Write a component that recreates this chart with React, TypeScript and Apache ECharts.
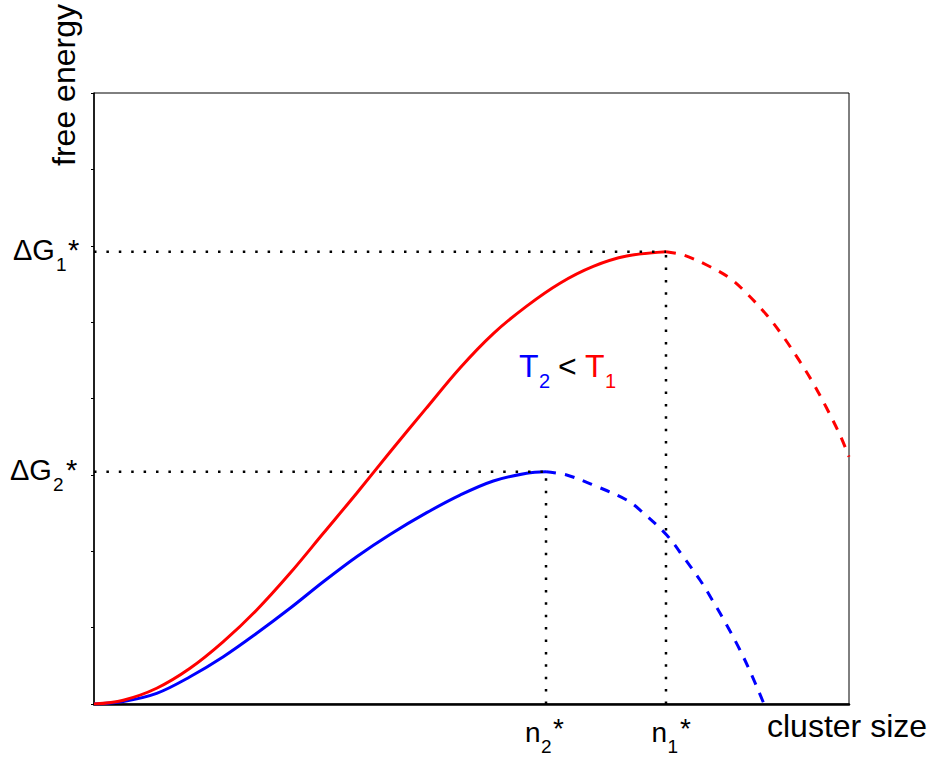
import React, { useEffect, useRef } from "react";
import * as echarts from "echarts";

// cluster size (0..100) vs free energy (0..8)
const redSolid: [number, number][] = [
  [0, 0], [3.88, 0.05], [8.3, 0.206], [12.72, 0.467], [17.13, 0.816], [21.55, 1.231],
  [25.96, 1.711], [30.37, 2.235], [34.79, 2.76], [39.21, 3.3], [44.07, 3.88],
  [48.48, 4.4], [52.89, 4.85], [57.31, 5.21], [61.72, 5.51], [66.13, 5.73],
  [70.56, 5.865], [75.76, 5.922],
];
const redDashed: [number, number][] = [
  [75.76, 5.922], [78.05, 5.879], [81.15, 5.748], [84.24, 5.574], [86.45, 5.377],
  [89.1, 5.093], [91.3, 4.809], [93.51, 4.482], [95.27, 4.199], [97.05, 3.872],
  [98.81, 3.522], [100, 3.238],
];
const blueSolid: [number, number][] = [
  [0, 0], [3.88, 0.034], [8.3, 0.14], [12.72, 0.357], [17.13, 0.619], [21.55, 0.926],
  [25.96, 1.253], [30.37, 1.601], [34.79, 1.929], [39.21, 2.22], [44.07, 2.505],
  [48.48, 2.735], [52.89, 2.92], [57.31, 3.022], [59.87, 3.042],
];
const blueDashed: [number, number][] = [
  [59.87, 3.042], [62.61, 2.998], [66.13, 2.867], [70.56, 2.671], [72.32, 2.54],
  [75.85, 2.213], [78.05, 1.929], [80.26, 1.624], [82.03, 1.339], [83.8, 1.034],
  [85.56, 0.707], [87.11, 0.38], [88.74, 0],
];
const peak1: [number, number] = [75.76, 5.922];
const peak2: [number, number] = [59.87, 3.042];
const xRange = [0, 100];
const yRange = [0, 8];
const yTickStep = 1;
const xAxisTitle = "cluster size";
const yAxisTitle = "free energy";

const FONT = "'Liberation Sans', Arial, Helvetica, sans-serif";
const RED = "#ff0000";
const BLUE = "#0000ff";

function txt(text: string, left: number, baseline: number, size: number, color = "#000", z = 100) {
  return {
    type: "text",
    x: left,
    y: baseline - 0.3465 * size,
    z,
    silent: true,
    style: {
      text,
      fill: color,
      fontSize: size,
      fontFamily: FONT,
      align: "left",
      verticalAlign: "middle",
      textAlign: "left",
      textVerticalAlign: "middle",
    },
  };
}

export default function App() {
  const ref = useRef<HTMLDivElement>(null);
  useEffect(() => {
    document.body.style.margin = "0";
    const chart = echarts.init(ref.current!, undefined, { renderer: "svg" });
    const dotted = { color: "#000", width: 2.5, type: [2.5, 9.9] as number[], cap: "butt" as const };
    const lineSeries = (data: [number, number][], color: string, dashed: boolean, z = 3) => ({
      type: "line",
      data,
      smooth: 0.35,
      symbol: "none",
      z,
      lineStyle: { color, width: 3, type: dashed ? [10, 9] : "solid", cap: "butt" },
      clip: true,
    });
    chart.setOption({
      animation: false,
      grid: {
        left: 94, top: 93, right: 84, bottom: 53,
        show: true, borderColor: "#000", borderWidth: 1, backgroundColor: "transparent",
      },
      xAxis: {
        type: "value", min: xRange[0], max: xRange[1],
        axisLine: { show: true, lineStyle: { color: "#000", width: 2.5 } },
        axisTick: { show: false }, axisLabel: { show: false }, splitLine: { show: false },
      },
      yAxis: {
        type: "value", min: yRange[0], max: yRange[1], interval: yTickStep,
        axisLine: { show: true, lineStyle: { color: "#000", width: 1.5 } },
        axisTick: { show: true, length: 3, lineStyle: { color: "#000", width: 1 } },
        axisLabel: { show: false }, splitLine: { show: false },
      },
      series: [
        lineSeries(blueSolid, BLUE, false),
        lineSeries(blueDashed, BLUE, true),
        lineSeries(redSolid, RED, false),
        lineSeries(redDashed, RED, true),
        { type: "line", data: [[xRange[0], peak1[1]], peak1], symbol: "none", z: 5, lineStyle: dotted },
        { type: "line", data: [[xRange[0], peak2[1]], peak2], symbol: "none", z: 5, lineStyle: dotted },
        { type: "line", data: [[peak1[0], yRange[0]], peak1], symbol: "none", z: 5, lineStyle: dotted },
        { type: "line", data: [[peak2[0], yRange[0]], peak2], symbol: "none", z: 5, lineStyle: dotted },
      ],
    });
    const p1 = chart.convertToPixel({ gridIndex: 0 }, peak1) as number[];
    const p2 = chart.convertToPixel({ gridIndex: 0 }, peak2) as number[];
    const origin = chart.convertToPixel({ gridIndex: 0 }, [xRange[0], yRange[0]]) as number[];
    const right = chart.convertToPixel({ gridIndex: 0 }, [xRange[1], yRange[1]]) as number[];
    const base = origin[1] + 38;
    const g1 = p1[1] + 8.5;
    const g2 = p2[1] + 8.5;
    chart.setOption({
      graphic: [
        txt("ΔG", 13, g1, 29), txt("1", 56, g1 + 11, 19), txt("*", 68, g1, 29),
        txt("ΔG", 10, g2, 29), txt("2", 53, g2 + 11, 19), txt("*", 66, g2, 29),
        txt("n", p2[0] - 21, base, 28), txt("2", p2[0] - 5, base + 11, 19), txt("*", p2[0] + 7, base - 4, 28),
        txt("n", p1[0] - 14.5, base, 28), txt("1", p1[0] + 1.5, base + 11, 19), txt("*", p1[0] + 14, base - 4, 28),
        txt(xAxisTitle, right[0] - 82, origin[1] + 33, 32),
        {
          type: "text", x: 64, y: 85, rotation: Math.PI / 2, silent: true,
          style: {
            text: yAxisTitle, fill: "#000", fontSize: 32, fontFamily: FONT,
            align: "center", verticalAlign: "middle", textAlign: "center", textVerticalAlign: "middle",
          },
        },
        txt("T", 519, 377, 32, BLUE), txt("2", 539, 388, 20, BLUE),
        txt("<", 558, 377, 32, "#000"),
        txt("T", 585, 377, 32, RED), txt("1", 605, 388, 20, RED),
      ],
    });
    return () => chart.dispose();
  }, []);
  return <div ref={ref} style={{ width: 933, height: 757 }} />;
}
